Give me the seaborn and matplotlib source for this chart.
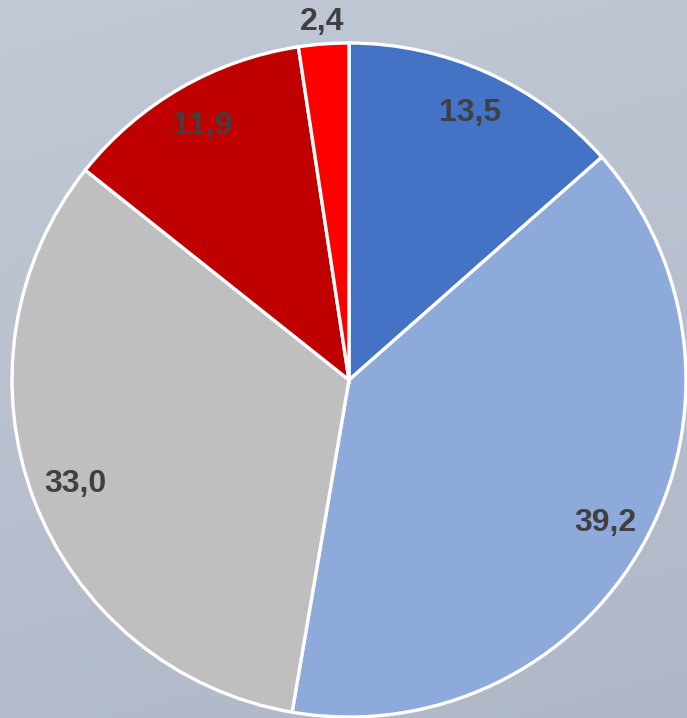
import numpy as np
import matplotlib
matplotlib.use("Agg")
import matplotlib.pyplot as plt
import seaborn as sns

# Shares, clockwise from 12 o'clock
values = [13.5, 39.2, 33.0, 11.9, 2.4]
labels = ["13,5", "39,2", "33,0", "11,9", "2,4"]
colors = ["#4472c4", "#8eaadb", "#bfbfbf", "#c00000", "#ff0000"]

sns.set_theme(style="white")
plt.rcParams["font.family"] = ["Liberation Sans", "DejaVu Sans"]

W, H = 687, 718
fig = plt.figure(figsize=(W / 100, H / 100), dpi=100)

# soft blue-grey backdrop
bg = fig.add_axes([0, 0, 1, 1], zorder=0)
yy = np.linspace(0, 1, 200)[:, None]
xx = np.linspace(0, 1, 200)[None, :]
top = np.array([0.757, 0.788, 0.839])
bot = np.array([0.690, 0.722, 0.784])
t = (yy * 0.8 + xx * 0.2)
img = top[None, None, :] * (1 - t[..., None]) + bot[None, None, :] * t[..., None]
bg.imshow(img, aspect="auto", extent=[0, 1, 0, 1])
bg.set_axis_off()

ax = fig.add_axes([0, 0, 1, 1], zorder=1)
ax.patch.set_alpha(0)

cx, cy, r = 349, 380, 337
wedges, _ = ax.pie(
    values,
    colors=colors,
    startangle=90,
    counterclock=False,
    radius=1.0,
    wedgeprops=dict(edgecolor="white", linewidth=2.4),
)
ax.set_aspect("auto")
ax.set_xlim(-cx / r, (W - cx) / r)
ax.set_ylim(-(H - cy) / r, cy / r)
ax.set_axis_off()

for w, lab, v in zip(wedges, labels, values):
    ang = np.deg2rad((w.theta1 + w.theta2) / 2)
    d = 1.065 if v < 5 else 0.87
    ax.text(d * np.cos(ang), d * np.sin(ang), lab, ha="center", va="center",
            fontsize=23, fontweight="bold", color="#404040")

fig.savefig("out.png", dpi=100)
